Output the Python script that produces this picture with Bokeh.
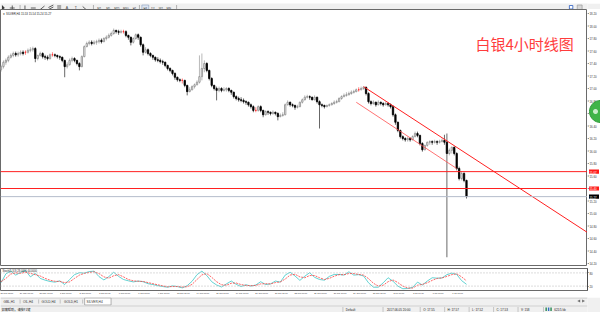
import math
from bokeh.plotting import figure
from bokeh.models import (Range1d, LinearAxis, FixedTicker, Span, Label, ColumnDataSource)
from bokeh.layouts import column, row
from bokeh.embed import file_html
from bokeh.resources import INLINE
from bokeh.core.properties import value

# ---------------- data ----------------
symbol = "SILVER,H4"
note_text = "白银4小时线图"

opens = [17.30, 17.35, 17.42, 17.45, 17.50, 17.53, 17.56, 17.54, 17.56, 17.58,
         17.58, 17.58, 17.61, 17.62, 17.64, 17.48, 17.53, 17.56, 17.51, 17.50,
         17.48, 17.54, 17.54, 17.53, 17.51, 17.50, 17.45, 17.35, 17.38, 17.45,
         17.48, 17.45, 17.40, 17.35, 17.51, 17.67, 17.72, 17.74, 17.72, 17.74,
         17.75, 17.77, 17.75, 17.80, 17.82, 17.85, 17.88, 17.93, 17.91, 17.90,
         17.91, 17.91, 17.85, 17.82, 17.74, 17.80, 17.86, 17.82, 17.70, 17.58,
         17.62, 17.56, 17.53, 17.50, 17.46, 17.45, 17.43, 17.42, 17.37, 17.32,
         17.29, 17.24, 17.18, 17.14, 17.13, 17.13, 17.05, 16.95, 16.98, 17.03,
         17.06, 17.10, 17.19, 17.32, 17.40, 17.29, 17.16, 17.05, 17.00, 16.97,
         17.00, 16.97, 16.98, 17.00, 16.97, 16.94, 16.87, 16.84, 16.82, 16.81,
         16.79, 16.78, 16.74, 16.71, 16.65, 16.65, 16.71, 16.65, 16.58, 16.63,
         16.62, 16.60, 16.62, 16.60, 16.55, 16.57, 16.58, 16.74, 16.78, 16.74,
         16.73, 16.70, 16.71, 16.78, 16.82, 16.86, 16.87, 16.86, 16.82, 16.86,
         16.79, 16.74, 16.73, 16.71, 16.73, 16.74, 16.76, 16.78, 16.79, 16.84,
         16.87, 16.89, 16.90, 16.92, 16.94, 16.95, 16.98, 16.98, 17.00, 17.02,
         16.92, 16.79, 16.76, 16.78, 16.74, 16.78, 16.76, 16.74, 16.76, 16.74,
         16.71, 16.58, 16.46, 16.33, 16.23, 16.20, 16.18, 16.20, 16.18, 16.23,
         16.28, 16.25, 16.12, 16.02, 16.09, 16.14, 16.15, 16.14, 16.15, 16.14,
         16.15, 16.17, 16.14, 15.96, 16.01, 16.06, 15.96, 15.72, 15.56, 15.64,
         15.53]

highs = [17.38, 17.45, 17.48, 17.53, 17.56, 17.59, 17.59, 17.59, 17.61, 17.61,
         17.61, 17.64, 17.66, 17.67, 17.66, 17.54, 17.59, 17.58, 17.54, 17.53,
         17.56, 17.58, 17.56, 17.54, 17.53, 17.51, 17.46, 17.42, 17.48, 17.51,
         17.50, 17.46, 17.42, 17.53, 17.69, 17.75, 17.77, 17.77, 17.77, 17.78,
         17.80, 17.80, 17.82, 17.85, 17.88, 17.91, 17.96, 17.94, 17.94, 17.94,
         17.94, 17.93, 17.86, 17.83, 17.82, 17.88, 17.88, 17.83, 17.72, 17.66,
         17.64, 17.58, 17.54, 17.51, 17.50, 17.48, 17.46, 17.43, 17.38, 17.34,
         17.30, 17.26, 17.19, 17.16, 17.16, 17.14, 17.06, 17.02, 17.05, 17.08,
         17.13, 17.53, 17.56, 17.45, 17.42, 17.30, 17.18, 17.06, 17.03, 17.03,
         17.02, 17.02, 17.02, 17.02, 16.98, 16.95, 16.89, 16.87, 16.86, 16.84,
         16.81, 16.79, 16.76, 16.73, 16.70, 16.73, 16.73, 16.66, 16.65, 16.65,
         16.63, 16.65, 16.63, 16.62, 16.60, 16.62, 16.76, 16.81, 16.79, 16.76,
         16.74, 16.74, 16.79, 16.84, 16.89, 16.90, 16.89, 16.87, 16.89, 16.87,
         16.81, 16.76, 16.74, 16.74, 16.76, 16.78, 16.81, 16.82, 16.86, 16.89,
         16.92, 16.94, 16.95, 16.97, 16.98, 17.00, 17.02, 17.03, 17.03, 17.03,
         16.94, 16.81, 16.81, 16.79, 16.81, 16.79, 16.78, 16.79, 16.78, 16.76,
         16.73, 16.60, 16.47, 16.34, 16.25, 16.22, 16.23, 16.22, 16.25, 16.31,
         16.31, 16.26, 16.14, 16.10, 16.15, 16.17, 16.17, 16.18, 16.17, 16.18,
         16.20, 16.26, 16.28, 16.04, 16.07, 16.07, 15.98, 15.75, 15.67, 15.66,
         15.54]

lows = [17.27, 17.32, 17.38, 17.42, 17.48, 17.50, 17.51, 17.51, 17.53, 17.53,
        17.54, 17.56, 17.58, 17.59, 17.42, 17.45, 17.51, 17.48, 17.46, 17.45,
        17.46, 17.51, 17.50, 17.48, 17.46, 17.42, 17.18, 17.32, 17.37, 17.42,
        17.42, 17.37, 17.29, 17.34, 17.50, 17.66, 17.69, 17.69, 17.70, 17.70,
        17.72, 17.72, 17.74, 17.77, 17.80, 17.83, 17.86, 17.88, 17.86, 17.88,
        17.88, 17.82, 17.78, 17.69, 17.72, 17.78, 17.78, 17.67, 17.53, 17.56,
        17.53, 17.50, 17.46, 17.43, 17.42, 17.40, 17.38, 17.34, 17.29, 17.26,
        17.21, 17.14, 17.11, 17.10, 17.08, 17.02, 16.89, 16.94, 16.97, 17.00,
        17.05, 17.08, 17.13, 17.26, 17.26, 17.13, 17.02, 16.97, 16.81, 16.94,
        16.94, 16.95, 16.95, 16.94, 16.90, 16.84, 16.81, 16.79, 16.78, 16.76,
        16.74, 16.71, 16.68, 16.62, 16.62, 16.63, 16.62, 16.54, 16.57, 16.58,
        16.57, 16.58, 16.57, 16.49, 16.54, 16.55, 16.57, 16.73, 16.71, 16.70,
        16.66, 16.68, 16.70, 16.76, 16.81, 16.84, 16.82, 16.81, 16.81, 16.76,
        16.36, 16.70, 16.68, 16.70, 16.71, 16.73, 16.74, 16.76, 16.78, 16.82,
        16.86, 16.87, 16.89, 16.90, 16.92, 16.94, 16.95, 16.97, 16.98, 16.89,
        16.76, 16.73, 16.74, 16.71, 16.73, 16.73, 16.71, 16.73, 16.71, 16.68,
        16.55, 16.42, 16.30, 16.20, 16.17, 16.15, 16.15, 16.15, 16.17, 16.22,
        16.22, 16.09, 15.99, 16.01, 16.07, 16.10, 16.10, 16.12, 16.10, 16.12,
        16.14, 16.10, 14.30, 15.93, 15.96, 15.93, 15.69, 15.53, 15.53, 15.50,
        15.24]

closes = [17.35, 17.42, 17.45, 17.50, 17.53, 17.56, 17.54, 17.56, 17.58, 17.56,
          17.58, 17.61, 17.62, 17.64, 17.48, 17.53, 17.56, 17.51, 17.50, 17.48,
          17.54, 17.54, 17.53, 17.51, 17.50, 17.45, 17.35, 17.38, 17.45, 17.48,
          17.45, 17.40, 17.35, 17.51, 17.67, 17.72, 17.74, 17.72, 17.74, 17.75,
          17.77, 17.75, 17.80, 17.82, 17.85, 17.88, 17.93, 17.91, 17.90, 17.91,
          17.91, 17.85, 17.82, 17.74, 17.80, 17.86, 17.82, 17.70, 17.58, 17.62,
          17.56, 17.53, 17.50, 17.46, 17.45, 17.43, 17.42, 17.37, 17.32, 17.29,
          17.24, 17.18, 17.14, 17.13, 17.13, 17.05, 16.95, 16.98, 17.03, 17.06,
          17.10, 17.19, 17.32, 17.40, 17.29, 17.16, 17.05, 17.00, 16.97, 17.00,
          16.97, 16.98, 17.00, 16.97, 16.94, 16.87, 16.84, 16.82, 16.81, 16.79,
          16.78, 16.74, 16.71, 16.65, 16.65, 16.71, 16.65, 16.58, 16.63, 16.62,
          16.60, 16.62, 16.60, 16.55, 16.57, 16.58, 16.74, 16.78, 16.74, 16.73,
          16.70, 16.71, 16.78, 16.82, 16.86, 16.87, 16.86, 16.82, 16.86, 16.79,
          16.74, 16.73, 16.71, 16.73, 16.74, 16.76, 16.78, 16.79, 16.84, 16.87,
          16.89, 16.90, 16.92, 16.94, 16.95, 16.98, 16.98, 17.00, 17.02, 16.92,
          16.79, 16.76, 16.78, 16.74, 16.78, 16.76, 16.74, 16.76, 16.74, 16.71,
          16.58, 16.46, 16.33, 16.23, 16.20, 16.18, 16.20, 16.18, 16.23, 16.28,
          16.25, 16.12, 16.02, 16.09, 16.14, 16.15, 16.14, 16.15, 16.14, 16.15,
          16.17, 16.14, 15.96, 16.01, 16.06, 15.96, 15.72, 15.56, 15.64, 15.53,
          15.27]

level_lines = [15.67, 15.40]
upper_trend_bars = [148, 240]
upper_trend_prices = [17.03, 14.68]
lower_trend_bars = [145, 186]
lower_trend_prices = [16.78, 15.72]

price_ticks = [14.20, 14.40, 14.60, 14.80, 15.00, 15.20, 15.40, 15.60, 15.80, 16.00,
               16.20, 16.40, 16.60, 16.80, 17.00, 17.20, 17.40, 17.60, 17.80, 18.00, 18.20]

time_tick_bars = [0, 8, 16, 24, 32, 40, 48, 56, 64, 72, 80, 88,
                  96, 104, 112, 120, 128, 136, 144, 152, 160, 168, 176, 184]
time_tick_labels = ["26 May 2017", "29 May 08:00", "30 May 16:00", "1 Jun 00:00",
                    "2 Jun 08:00", "5 Jun 16:00", "7 Jun 00:00", "8 Jun 08:00",
                    "9 Jun 16:00", "13 Jun 00:00", "14 Jun 08:00", "15 Jun 16:00",
                    "19 Jun 00:00", "20 Jun 08:00", "21 Jun 16:00", "23 Jun 00:00",
                    "26 Jun 08:00", "27 Jun 16:00", "29 Jun 00:00", "30 Jun 08:00",
                    "3 Jul 16:00", "5 Jul 00:00", "6 Jul 08:00", "7 Jul 16:00"]

stoch_main = [35, 76, 88, 70, 82, 91, 62, 78, 55, 47,
              41, 38, 44, 27, 50, 72, 81, 79, 86, 88,
              63, 48, 63, 83, 64, 50, 44, 39, 43, 40,
              31, 27, 22, 18, 15, 21, 18, 12, 22, 42,
              72, 88, 68, 40, 25, 16, 30, 43, 28, 18,
              26, 20, 25, 40, 27, 30, 43, 38, 70, 83,
              66, 46, 65, 81, 60, 50, 47, 64, 73, 73,
              70, 85, 70, 72, 66, 35, 15, 15, 35, 58,
              42, 20, 8, 9, 14, 38, 25, 43, 58, 56,
              57, 72, 79, 73, 45, 28]
stoch_signal = [40, 55, 75, 80, 78, 83, 78, 72, 66, 55,
                47, 42, 41, 36, 39, 55, 70, 78, 82, 85,
                77, 62, 56, 67, 72, 62, 50, 44, 42, 41,
                36, 31, 26, 21, 17, 18, 18, 16, 17, 28,
                50, 71, 77, 60, 40, 26, 24, 33, 34, 27,
                23, 22, 23, 30, 31, 30, 36, 39, 52, 70,
                74, 62, 58, 68, 68, 58, 50, 55, 65, 72,
                72, 77, 77, 73, 70, 54, 33, 20, 24, 40,
                48, 36, 20, 11, 11, 24, 28, 35, 46, 55,
                57, 64, 72, 76, 62, 44]
stoch_levels = [20, 80]

tab_names = ["GBL,H1", "OIL,H4", "GOLD,H4", "GOLD,H1", "SILVER,H4"]
period_names = ["M1", "M5", "M15", "M30", "H1", "H4", "D1", "W1", "MN"]
status_items = ["Default", "2017.06.05 20:00", "O: 17.55", "H: 17.57",
                "L: 17.52", "C: 17.53", "V: 158", "621/5 kb"]
status_help = "如需帮助，请按F1键"

# ---------------- layout constants ----------------
W = 600
MAIN_H = 257
BAR_PX = 2.45
LEFT_PAD_PX = 0.5
FRAME_W = 587
AXIS_W = W - FRAME_W
x_lo = -LEFT_PAD_PX / BAR_PX
x_hi = x_lo + FRAME_W / BAR_PX
PRICE_TOP, PRICE_BOTTOM = 18.264, 14.152
PRICE_PER_PX = (PRICE_TOP - PRICE_BOTTOM) / MAIN_H
FONT = "Liberation Sans"
BUTTON_FROM_TOP = 102          # screen px below the chart top for the green button
BUTTON_R = 11

xr = Range1d(x_lo, x_hi)
yr = Range1d(PRICE_BOTTOM, PRICE_TOP)


def no_grid(f):
    for g in f.grid:
        g.visible = False


def chrome(w, h, bg):
    f = figure(width=w, height=h, x_range=Range1d(0, w), y_range=Range1d(h, 0),
               output_backend="svg", toolbar_location=None,
               x_axis_location=None, y_axis_location=None,
               min_border=0, min_border_left=0, min_border_right=0,
               min_border_top=0, min_border_bottom=0,
               background_fill_color=bg, border_fill_color=bg,
               outline_line_color=None)
    no_grid(f)
    return f


# ---------------- toolbar (drawn icons) ----------------
tb = chrome(W, 9, "#f0f0f0")
tb.segment(x0=[0], y0=[8.5], x1=[W], y1=[8.5], line_color="#b4b4b4", line_width=1)
ic = "#3a3a3a"
tb.patches(xs=[[1.5, 1.5, 4.5]], ys=[[1.5, 6.5, 4.5]], fill_color=ic, line_color=None)
tb.segment(x0=[12, 9.5], y0=[2, 4.5], x1=[12, 14.5], y1=[7, 4.5], line_color=ic, line_width=0.8)
tb.segment(x0=[25, 31, 40, 49, 49, 58, 58, 58, 84],
           y0=[2, 4.5, 6.5, 6, 4, 2.5, 4.5, 6.5, 3],
           x1=[25, 36, 45, 54, 54, 62, 62, 62, 88],
           y1=[7, 4.5, 2.5, 3.5, 1.5, 2.5, 4.5, 6.5, 6.5],
           line_color=ic, line_width=0.8)
tb.text(x=[68, 77], y=[4.6, 4.6], text=["A", "T"], text_font_size="3.5px",
        text_align="center", text_baseline="middle", text_color=ic,
        text_font=value(FONT))
tb.segment(x0=[20, 95, 142, 180], y0=[1.5] * 4, x1=[20, 95, 142, 180], y1=[7] * 4,
           line_color="#b0b0b0", line_width=1)
per_x = [101, 110, 119, 128, 137, 148, 156, 164, 172]
tb.quad(left=[144.5], right=[151.5], top=[1.5], bottom=[7.3], fill_color="#dde6f2",
        line_color="#8aa0c0", line_width=0.6)
tb.text(x=per_x, y=[4.6] * len(per_x), text=period_names, text_font_size="2.8px",
        text_align="center", text_baseline="middle", text_color="#303030",
        text_font=value(FONT))
tb.quad(left=[581.5], right=[585], top=[2], bottom=[5.5], fill_color="#ffffff",
        line_color="#2a5cc0", line_width=0.8)
tb.quad(left=[589.5], right=[594.5], top=[1.5], bottom=[6.3], fill_color="#d8d8d8",
        line_color="#909090", line_width=0.6)

# ---------------- main price chart ----------------
main = figure(width=FRAME_W, height=MAIN_H, x_range=xr, y_range=yr,
              output_backend="svg", toolbar_location=None,
              x_axis_location=None, y_axis_location=None,
              min_border_left=0, min_border_right=0, min_border_top=0, min_border_bottom=0,
              background_fill_color="white", border_fill_color="white",
              outline_line_color="#6a6a6a")
no_grid(main)

n = len(closes)
bars = list(range(n))
is_doji = [o == c for o, c in zip(opens, closes)]
is_up = [c > o for o, c in zip(opens, closes)]
fill = ["#ff2a2a" if d else ("#ffffff" if u else "#000000") for u, d in zip(is_up, is_doji)]
edge = ["#ff2a2a" if d else ("#8a8a8a" if u else "#000000") for u, d in zip(is_up, is_doji)]
src = ColumnDataSource(dict(x=bars, h=highs, l=lows,
                            top=[max(o, c) for o, c in zip(opens, closes)],
                            bottom=[min(o, c) for o, c in zip(opens, closes)],
                            fill=fill, edge=edge))
main.segment(x0="x", y0="l", x1="x", y1="h", line_color="edge", line_width=0.6, source=src)
main.vbar(x="x", width=0.55, top="top", bottom="bottom", fill_color="fill",
          line_color="edge", line_width=0.8, source=src)

for lv in level_lines:
    main.add_layout(Span(location=lv, dimension="width", line_color="#ff2020", line_width=1))
main.add_layout(Span(location=closes[-1], dimension="width", line_color="#b4bccb", line_width=1))

main.line(upper_trend_bars, upper_trend_prices, line_color="#ff2020", line_width=1)
main.line(lower_trend_bars, lower_trend_prices, line_color="#ff5050", line_width=1, line_alpha=0.8)

title_txt = "▼ %s  %.2f %.2f %.2f %.2f" % (symbol, opens[-1], highs[-1], lows[-1], closes[-1])
main.add_layout(Label(x=2, y=253, x_units="screen", y_units="screen", text=title_txt,
                      text_font_size="2.8px", text_font=FONT, text_color="#202020",
                      text_baseline="middle"))
main.add_layout(Label(x=475, y=234, x_units="screen", y_units="screen", text=note_text,
                      text_font_size="15px", text_font="Noto Sans CJK SC",
                      text_color="#ff3c3c", text_baseline="top"))

# ---------------- price scale strip (right of the chart) ----------------
ps = figure(width=AXIS_W, height=MAIN_H, x_range=Range1d(0, AXIS_W), y_range=yr,
            output_backend="svg", toolbar_location=None,
            x_axis_location=None, y_axis_location=None,
            min_border_left=0, min_border_right=0, min_border_top=0, min_border_bottom=0,
            background_fill_color="white", border_fill_color="white",
            outline_line_color=None)
no_grid(ps)
ps.segment(x0=[0] * len(price_ticks), y0=price_ticks, x1=[1.3] * len(price_ticks),
           y1=price_ticks, line_color="#4a4a4a", line_width=0.8)
ps.text(x=[2] * len(price_ticks), y=price_ticks, text=["%.2f" % t for t in price_ticks],
        text_font_size="2.8px", text_baseline="middle", text_color="#303030",
        text_font=value(FONT))
tag_levels = level_lines + [closes[-1]]
ps.rect(x=[6.5] * 3, y=tag_levels, width=[10] * 3, height=[4.2] * 3, height_units="screen",
        fill_color=["#ff1a1a", "#ff1a1a", "#000000"], line_color=None)
ps.text(x=[2] * 3, y=tag_levels, text=["%.2f" % v for v in tag_levels],
        text_font_size="2.8px", text_baseline="middle", text_color="white",
        text_font=value(FONT))

# floating green button, half hidden at the right edge of the window (drawn as a polygon)
button_y = PRICE_TOP - BUTTON_FROM_TOP * PRICE_PER_PX
angles = [math.radians(a) for a in range(0, 360, 10)]
circ_x = [AXIS_W + BUTTON_R * math.cos(a) for a in angles]
circ_y = [button_y + BUTTON_R * math.sin(a) * PRICE_PER_PX for a in angles]
dot_x = [AXIS_W - 5 + 2.5 * math.cos(a) for a in angles]
dot_y = [button_y + 2.5 * math.sin(a) * PRICE_PER_PX for a in angles]
ps.patches(xs=[circ_x, dot_x], ys=[circ_y, dot_y], fill_color=["#3fb449", "#c8ecca"],
           line_color=["#2f9a3a", None], line_width=1)

# ---------------- stochastic pane ----------------
st = figure(width=W, height=31, x_range=xr, y_range=Range1d(0, 100),
            output_backend="svg", toolbar_location=None,
            x_axis_location=None, y_axis_location=None,
            min_border_left=0, min_border_right=AXIS_W, min_border_top=2, min_border_bottom=7,
            background_fill_color="white", border_fill_color="white",
            outline_line_color="#6a6a6a")
no_grid(st)
label_center = [b + 2.4 for b in time_tick_bars]
tax = LinearAxis(ticker=FixedTicker(ticks=label_center),
                 major_label_overrides={p: t for p, t in zip(label_center, time_tick_labels)},
                 major_label_text_font_size="2.2px", major_label_text_font=FONT,
                 major_label_text_color="#303030", major_label_standoff=1,
                 major_tick_out=0, major_tick_in=0, minor_tick_line_color=None,
                 axis_line_color=None, major_tick_line_color=None)
st.add_layout(tax, "below")
sax = LinearAxis(ticker=FixedTicker(ticks=stoch_levels),
                 major_label_text_font_size="2.8px", major_label_text_font=FONT,
                 major_label_text_color="#303030", major_label_standoff=1,
                 major_tick_out=1, major_tick_in=0, minor_tick_line_color=None,
                 axis_line_color="#4a4a4a", major_tick_line_color="#4a4a4a")
st.add_layout(sax, "right")
for lv in stoch_levels:
    st.add_layout(Span(location=lv, dimension="width", line_color="#b8b8b8",
                       line_width=1, line_dash="1 2"))
stoch_bars = [2 * k for k in range(len(stoch_main))]
st.line(stoch_bars, stoch_main, line_color="#3cc8c8", line_width=0.8)
st.line(stoch_bars, stoch_signal, line_color="#ff4040", line_width=0.8, line_dash="2 1")
st.add_layout(Label(x=2, y=21, x_units="screen", y_units="screen",
                    text="Stoch(5,3,3) %.4f %.4f" % (stoch_main[-1], stoch_signal[-1]),
                    text_font_size="2.6px", text_font=FONT, text_color="#202020",
                    text_baseline="top"))

# ---------------- tabs + status bar ----------------
bt = chrome(W, 15, "#f0f0f0")
bt.segment(x0=[0], y0=[0.5], x1=[W], y1=[0.5], line_color="#c8c8c8", line_width=1)
tab_x = [3, 23, 42, 65, 88]
bt.quad(left=[86], right=[113], top=[0.5], bottom=[7.5], fill_color="white",
        line_color="#a0a0a0", line_width=0.8)
bt.text(x=tab_x, y=[4] * len(tab_x), text=tab_names, text_font_size="3.2px",
        text_baseline="middle", text_color="#303030", text_font=value(FONT))
bt.segment(x0=[20, 39, 61, 84], y0=[2] * 4, x1=[20, 39, 61, 84], y1=[6] * 4,
           line_color="#a0a0a0", line_width=0.6)
bt.patches(xs=[[589.5, 592.5, 592.5], [597.5, 594.5, 594.5]],
           ys=[[3.5, 2, 5], [3.5, 2, 5]], fill_color="#707070", line_color=None)
bt.segment(x0=[0], y0=[8.5], x1=[W], y1=[8.5], line_color="#d0d0d0", line_width=1)
bt.text(x=[1], y=[11.7], text=[status_help], text_font_size="3.2px",
        text_baseline="middle", text_color="#202020", text_font=value("Noto Sans CJK SC"))
stat_x = [353, 395, 432, 457, 482, 507, 532, 566]
bt.text(x=stat_x, y=[11.7] * len(stat_x), text=status_items, text_font_size="3px",
        text_baseline="middle", text_color="#202020", text_font=value(FONT))
sep_x = [350, 391, 429, 454, 479, 504, 529, 555]
bt.segment(x0=sep_x, y0=[9.5] * len(sep_x), x1=sep_x, y1=[14.5] * len(sep_x),
           line_color="#a8a8a8", line_width=0.6)
bt.quad(left=[557, 559.5, 562], right=[558.5, 561, 563.5], top=[10, 10, 10],
        bottom=[13.5, 13.5, 13.5], fill_color=["#2e8b57", "#3070c0", "#2e8b57"], line_color=None)

layout = column(tb, row(main, ps, spacing=0), st, bt, spacing=0)
open("out.html", "w").write(file_html(layout, INLINE))
